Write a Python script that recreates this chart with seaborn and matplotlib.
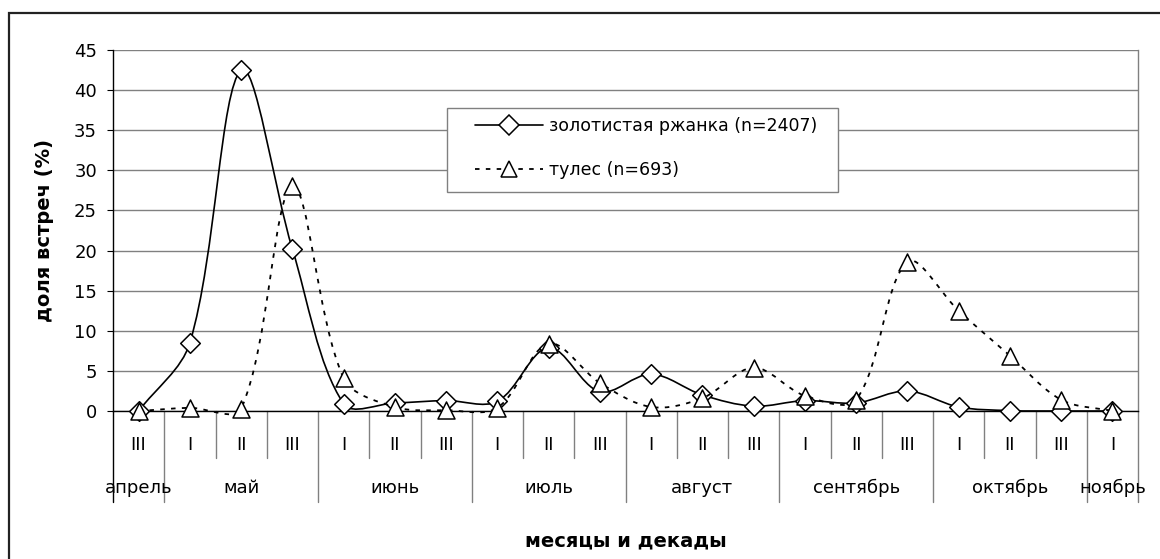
import numpy as np
import pandas as pd
import matplotlib
matplotlib.use("Agg")
import matplotlib.pyplot as plt
import matplotlib.transforms as mtransforms
from matplotlib.path import Path
from matplotlib.patches import PathPatch, Rectangle
from matplotlib.lines import Line2D
import seaborn as sns

# decades (III of April ... I of November)
decades = ["III", "I", "II", "III", "I", "II", "III", "I", "II", "III",
           "I", "II", "III", "I", "II", "III", "I", "II", "III", "I"]
months = ["апрель", "май", "июнь", "июль", "август", "сентябрь", "октябрь", "ноябрь"]
month_len = [1, 3, 3, 3, 3, 3, 3, 1]

# share of sightings, %
plover = [0.0, 8.5, 42.5, 20.2, 0.9, 1.0, 1.3, 1.2, 7.9, 2.4,
          4.6, 2.0, 0.6, 1.3, 1.0, 2.5, 0.5, 0.05, 0.0, 0.0]
tules = [0.0, 0.4, 0.3, 28.0, 4.1, 0.5, 0.1, 0.4, 8.4, 3.5,
         0.5, 1.6, 5.4, 1.9, 1.4, 18.6, 12.5, 6.9, 1.4, 0.0]

plover_label = "золотистая ржанка (n=2407)"
tules_label = "тулес (n=693)"

df = pd.DataFrame({"idx": np.arange(len(decades)), "plover": plover, "tules": tules})

sns.set_style("white")
plt.rcParams["font.family"] = ["DejaVu Sans"]
plt.rcParams["text.color"] = "black"
plt.rcParams["axes.labelcolor"] = "black"

W, H = 1160, 559
fig = plt.figure(figsize=(W / 100, H / 100), dpi=100)
ax = fig.add_axes([113 / W, 1 - 411 / H, 1025 / W, 361 / H])

ymax = 45
n = len(decades)
sx = 1025 / n          # px per category
sy = 361 / ymax        # px per percent
dash = (0, (2.5, 3.5))


def smooth_path(xs, ys):
    # Excel-like smoothed line: cubic Bezier, control points from neighbours
    P = np.column_stack([np.asarray(xs, float) * sx, np.asarray(ys, float) * sy])
    verts = [P[0]]
    codes = [Path.MOVETO]
    for i in range(len(P) - 1):
        p0 = P[i - 1] if i > 0 else P[i]
        p1, p2 = P[i], P[i + 1]
        p3 = P[i + 2] if i + 2 < len(P) else P[i + 1]
        d01 = np.hypot(*(p1 - p0))
        d12 = np.hypot(*(p2 - p1))
        d23 = np.hypot(*(p3 - p2))
        b1 = p1 + (p2 - p0) * (d12 / (d01 + d12)) / 3
        b2 = p2 - (p3 - p1) * (d12 / (d12 + d23)) / 3
        verts += [b1, b2, p2]
        codes += [Path.CURVE4] * 3
    verts = np.array(verts) / [sx, sy]
    return Path(verts, codes)


ax.add_patch(PathPatch(smooth_path(df["idx"], df["plover"]), fill=False,
                       edgecolor="black", lw=1.2, zorder=3, clip_on=False))
sns.scatterplot(data=df, x="idx", y="plover", marker="D", s=100, color="white",
                edgecolor="black", linewidth=1.1, zorder=4, clip_on=False, ax=ax)
ax.add_patch(PathPatch(smooth_path(df["idx"], df["tules"]), fill=False,
                       edgecolor="black", lw=1.3, linestyle=dash,
                       zorder=5, clip_on=False))
sns.scatterplot(data=df, x="idx", y="tules", marker="^", s=150, color="white",
                edgecolor="black", linewidth=1.1, zorder=6, clip_on=False, ax=ax)

ax.set_xlim(-0.5, n - 0.5)
ax.set_ylim(0, ymax)
ax.set_yticks(np.arange(0, ymax + 1, 5))
ax.grid(axis="y", color="#808080", lw=1)
ax.grid(axis="x", visible=False)
ax.set_axisbelow(True)
ax.tick_params(axis="y", direction="out", length=4.5, width=0.8, color="black",
               labelsize=13, pad=7, left=True, labelcolor="black")
ax.set_xticks(df["idx"])
ax.set_xticklabels(decades)
ax.tick_params(axis="x", length=0, labelsize=13, pad=18, labelcolor="black")

ax.spines["top"].set_visible(False)
ax.spines["left"].set_color("black")
ax.spines["left"].set_linewidth(1)
ax.spines["bottom"].set_color("black")
ax.spines["bottom"].set_linewidth(1)
ax.spines["right"].set_color("#808080")
ax.spines["right"].set_linewidth(1)

# category separators and month labels
trans = mtransforms.blended_transform_factory(ax.transData, ax.transAxes)
bounds = np.concatenate([[0], np.cumsum(month_len)])
short_depth = -47 / 361
long_depth = -91 / 361
for k in range(n + 1):
    depth = long_depth if k in bounds else short_depth
    col = "black" if k == 0 else "#808080"
    ax.plot([k - 0.5, k - 0.5], [0, depth], transform=trans, color=col,
            lw=1, clip_on=False, zorder=2)
for m, a, b in zip(months, bounds[:-1], bounds[1:]):
    ax.text((a + b - 1) / 2, -77 / 361, m, transform=trans, ha="center",
            va="center", fontsize=13, color="black")

ax.set_xlabel("месяцы и декады", fontsize=14, fontweight="bold", va="center")
ax.xaxis.set_label_coords(0.5, -130 / 361)
ax.set_ylabel("доля встреч (%)", fontsize=14, fontweight="bold", va="center")
ax.yaxis.set_label_coords(-68 / 1025, 0.5)

# legend box and entries
fig.patches.append(Rectangle((447 / W, 1 - 192 / H), 391 / W, 84 / H,
                             transform=fig.transFigure, facecolor="white",
                             edgecolor="#808080", lw=1, zorder=7))
handles = [
    Line2D([], [], color="black", lw=1.2, marker="D", ms=10, mfc="white",
           mec="black", mew=1.1),
    Line2D([], [], color="black", lw=1.3, linestyle=dash, marker="^",
           ms=12, mfc="white", mec="black", mew=1.1),
]
leg = fig.legend(handles, [plover_label, tules_label], loc="upper left",
                 bbox_to_anchor=(475 / W, 1 - 117 / H), frameon=False,
                 fontsize=12.5, handlelength=3.9, handletextpad=0.35,
                 labelspacing=1.5, borderpad=0, borderaxespad=0)
leg.set_zorder(8)

# outer chart frame
fig.patches.append(Rectangle((8.5 / W, -0.1), 1.2, 1 - 12.5 / H + 0.1,
                             transform=fig.transFigure, fill=False,
                             edgecolor="#222222", lw=1.6, zorder=10))

fig.savefig("out.png", dpi=100)
